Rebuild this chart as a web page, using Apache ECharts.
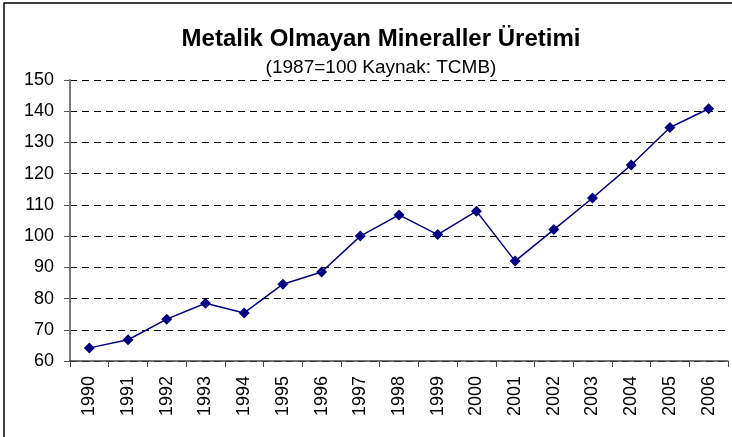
<!DOCTYPE html>
<html>
<head>
<meta charset="utf-8">
<script src="https://cdn.jsdelivr.net/npm/echarts@6/dist/echarts.min.js"></script>
<style>
html, body { margin: 0; padding: 0; background: #fff; }
#main { width: 732px; height: 437px; }
</style>
</head>
<body>
<div id="main"></div>
<script>
var years = ['1990','1991','1992','1993','1994','1995','1996','1997','1998',
             '1999','2000','2001','2002','2003','2004','2005','2006'];
var values = [64.2, 66.8, 73.4, 78.5, 75.4, 84.6, 88.5, 100.0, 106.8,
              100.5, 108.0, 92.0, 102.1, 112.2, 122.8, 134.8, 140.8];
var yMin = 60, yMax = 150, yStep = 10;

var myChart = echarts.init(document.getElementById('main'));
var option = {
    animation: false,
    title: {
        left: 376,
        top: 22,
        textAlign: 'center',
        text: 'Metalik Olmayan Mineraller Üretimi',
        subtext: '(1987=100 Kaynak: TCMB)',
        itemGap: 7,
        textStyle: {
            fontFamily: 'Liberation Sans, Arial',
            fontSize: 24,
            fontWeight: 'bold',
            color: '#000'
        },
        subtextStyle: {
            fontFamily: 'Liberation Sans, Arial',
            fontSize: 19,
            color: '#000'
        }
    },
    graphic: [{
        type: 'rect',
        shape: { x: 4, y: 3, width: 740, height: 450 },
        style: { fill: 'none', stroke: '#000', lineWidth: 1.5 }
    }],
    grid: { left: 70, top: 80, right: 4, bottom: 76 },
    xAxis: {
        type: 'category',
        data: years,
        boundaryGap: true,
        axisLine: { lineStyle: { color: '#444', width: 1.5 } },
        axisTick: { show: true, length: 6, lineStyle: { color: '#444' } },
        axisLabel: {
            rotate: 90,
            margin: 15,
            fontFamily: 'Liberation Sans, Arial',
            fontSize: 18,
            color: '#000'
        },
        splitLine: { show: false }
    },
    yAxis: {
        type: 'value',
        min: yMin,
        max: yMax,
        interval: yStep,
        axisLine: { show: true, lineStyle: { color: '#777', width: 2 } },
        axisTick: { show: true, inside: false, length: 6, lineStyle: { color: '#555' } },
        axisLabel: {
            margin: 16,
            fontFamily: 'Liberation Sans, Arial',
            fontSize: 18,
            color: '#000'
        },
        splitLine: {
            show: true,
            lineStyle: { color: '#000', width: 1, type: [7, 5] }
        }
    },
    series: [{
        type: 'line',
        data: values,
        symbol: 'diamond',
        symbolSize: 11,
        lineStyle: { color: '#000080', width: 1.5 },
        itemStyle: { color: '#000080' }
    }]
};
myChart.setOption(option);
</script>
</body>
</html>
